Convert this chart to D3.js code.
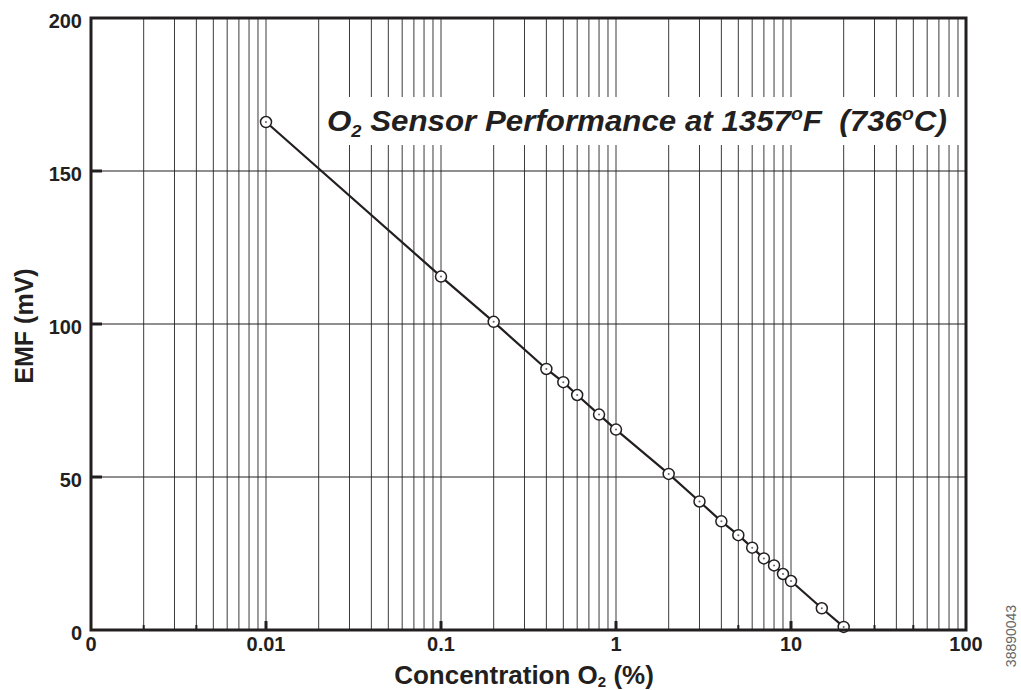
<!DOCTYPE html>
<html>
<head>
<meta charset="utf-8">
<script src="https://cdn.jsdelivr.net/npm/d3@7"></script>
<style>
  body { margin: 0; background: #fff; }
  svg { display: block; }
  text { font-family: "Liberation Sans", Arial, sans-serif; fill: #231f20; }
</style>
</head>
<body>
<svg id="chart" width="1021" height="690"></svg>
<script>
//Data
const concentration = [0.01, 0.1, 0.2, 0.4, 0.5, 0.6, 0.8, 1, 2, 3, 4, 5, 6, 7, 8, 9, 10, 15, 20];
const emf = [166, 115.5, 100.7, 85.3, 81, 76.8, 70.4, 65.5, 51, 42, 35.5, 31, 26.9, 23.4, 21.1, 18.3, 16, 7.1, 1];

const xTickValues = [0.001, 0.01, 0.1, 1, 10, 100];
const xTickLabels = ['0', '0.01', '0.1', '1', '10', '100'];
const yTickValues = [0, 50, 100, 150, 200];
const majorMarks = [0.01, 0.1, 1, 10];
const smallMarks = [0.002, 0.004, 5, 30, 50];

//Plot frame
const plotLeft = 91, plotRight = 966, plotTop = 18, plotBottom = 630;
const ink = '#231f20';

var svg = d3.select('#chart');

var x = d3.scaleLog()
    .domain([0.001, 100])
    .range([plotLeft, plotRight]);

var y = d3.scaleLinear()
    .domain([0, 200])
    .range([plotBottom, plotTop]);

//Vertical grid: every 1..9 in each decade
var gridX = [];
for (var p = -3; p <= 1; p++)
    for (var k = 1; k <= 9; k++) {
        var v = k * Math.pow(10, p);
        if (v > 0.001 && v < 100) gridX.push(+v.toPrecision(3));
    }

svg.append('g')
    .selectAll('line')
    .data(gridX)
    .enter().append('line')
    .attr('x1', d => x(d)).attr('x2', d => x(d))
    .attr('y1', plotTop).attr('y2', plotBottom)
    .attr('stroke', '#3a3a3a')
    .attr('stroke-width', 1);

//Horizontal grid
svg.append('g')
    .selectAll('line')
    .data([50, 100, 150])
    .enter().append('line')
    .attr('x1', plotLeft).attr('x2', plotRight)
    .attr('y1', d => y(d)).attr('y2', d => y(d))
    .attr('stroke', ink)
    .attr('stroke-width', 1);

//Title with white box behind it
svg.append('rect')
    .attr('x', 321).attr('y', 97)
    .attr('width', 643).attr('height', 48)
    .attr('fill', '#fff');

var titleG = svg.append('g');
var title = titleG.append('text')
    .attr('x', 0).attr('y', 0)
    .attr('font-size', 29)
    .attr('font-weight', 'bold')
    .attr('font-style', 'italic');
title.append('tspan').text('O');
title.append('tspan').attr('font-size', 17).attr('dy', 6).text('2');
title.append('tspan').attr('dy', -6).text(' Sensor Performance at 1357');
title.append('tspan').attr('font-size', 18).attr('dy', -11).text('o');
title.append('tspan').attr('dy', 11).text('F\u00a0\u00a0(736');
title.append('tspan').attr('font-size', 18).attr('dy', -11).text('o');
title.append('tspan').attr('dy', 11).text('C)');
//Stretch the title to the width it has in the reference
var tw = title.node().getBBox().width;
titleG.attr('transform', 'translate(327,131) scale(' + (620 / tw) + ',1)');

//Data line
svg.append('path')
    .datum(concentration)
    .attr('fill', 'none')
    .attr('stroke', ink)
    .attr('stroke-width', 2.2)
    .attr('d', d3.line()
        .x(d => x(d))
        .y((d, i) => y(emf[i])));

//Markers
var marks = svg.append('g')
    .selectAll('g')
    .data(concentration)
    .enter().append('g')
    .attr('transform', (d, i) => 'translate(' + x(d) + ',' + y(emf[i]) + ')');
marks.append('circle')
    .attr('r', 5.5)
    .attr('fill', '#fff')
    .attr('stroke', ink)
    .attr('stroke-width', 1.5);
marks.append('circle')
    .attr('r', 1)
    .attr('fill', '#666');

//Frame
svg.append('rect')
    .attr('x', plotLeft).attr('y', plotTop)
    .attr('width', plotRight - plotLeft).attr('height', plotBottom - plotTop)
    .attr('fill', 'none')
    .attr('stroke', ink)
    .attr('stroke-width', 3);

//Inner tick marks
svg.append('g')
    .selectAll('line')
    .data(majorMarks)
    .enter().append('line')
    .attr('x1', d => x(d)).attr('x2', d => x(d))
    .attr('y1', plotBottom).attr('y2', plotBottom - 9)
    .attr('stroke', ink).attr('stroke-width', 3);

svg.append('g')
    .selectAll('line')
    .data(smallMarks)
    .enter().append('line')
    .attr('x1', d => x(d)).attr('x2', d => x(d))
    .attr('y1', plotBottom).attr('y2', plotBottom - 5)
    .attr('stroke', ink).attr('stroke-width', 2);

svg.append('g')
    .selectAll('line')
    .data([50, 100, 150])
    .enter().append('line')
    .attr('x1', plotLeft).attr('x2', plotLeft + 11)
    .attr('y1', d => y(d)).attr('y2', d => y(d))
    .attr('stroke', ink).attr('stroke-width', 3);

//Tick labels
svg.append('g')
    .selectAll('text')
    .data(yTickValues)
    .enter().append('text')
    .attr('x', 82)
    .attr('y', d => y(d) + 3)
    .attr('dy', '0.35em')
    .attr('text-anchor', 'end')
    .attr('font-size', 20)
    .attr('font-weight', 'bold')
    .text(d => d);

svg.append('g')
    .selectAll('text')
    .data(xTickValues)
    .enter().append('text')
    .attr('x', d => x(d))
    .attr('y', 651)
    .attr('text-anchor', 'middle')
    .attr('font-size', 20)
    .attr('font-weight', 'bold')
    .text((d, i) => xTickLabels[i]);

//Axis titles
var xTitle = svg.append('text')
    .attr('x', 524).attr('y', 684)
    .attr('text-anchor', 'middle')
    .attr('font-size', 26)
    .attr('font-weight', 'bold');
xTitle.append('tspan').text('Concentration O');
xTitle.append('tspan').attr('font-size', 15).attr('dy', 3).text('2');
xTitle.append('tspan').attr('dy', -3).text(' (%)');

svg.append('text')
    .attr('transform', 'translate(33,326) rotate(-90)')
    .attr('text-anchor', 'middle')
    .attr('font-size', 25)
    .attr('font-weight', 'bold')
    .text('EMF (mV)');

//Figure code
svg.append('text')
    .attr('transform', 'translate(1016,636) rotate(-90)')
    .attr('text-anchor', 'middle')
    .attr('font-size', 14)
    .style('fill', '#666')
    .text('38890043');
</script>
</body>
</html>
